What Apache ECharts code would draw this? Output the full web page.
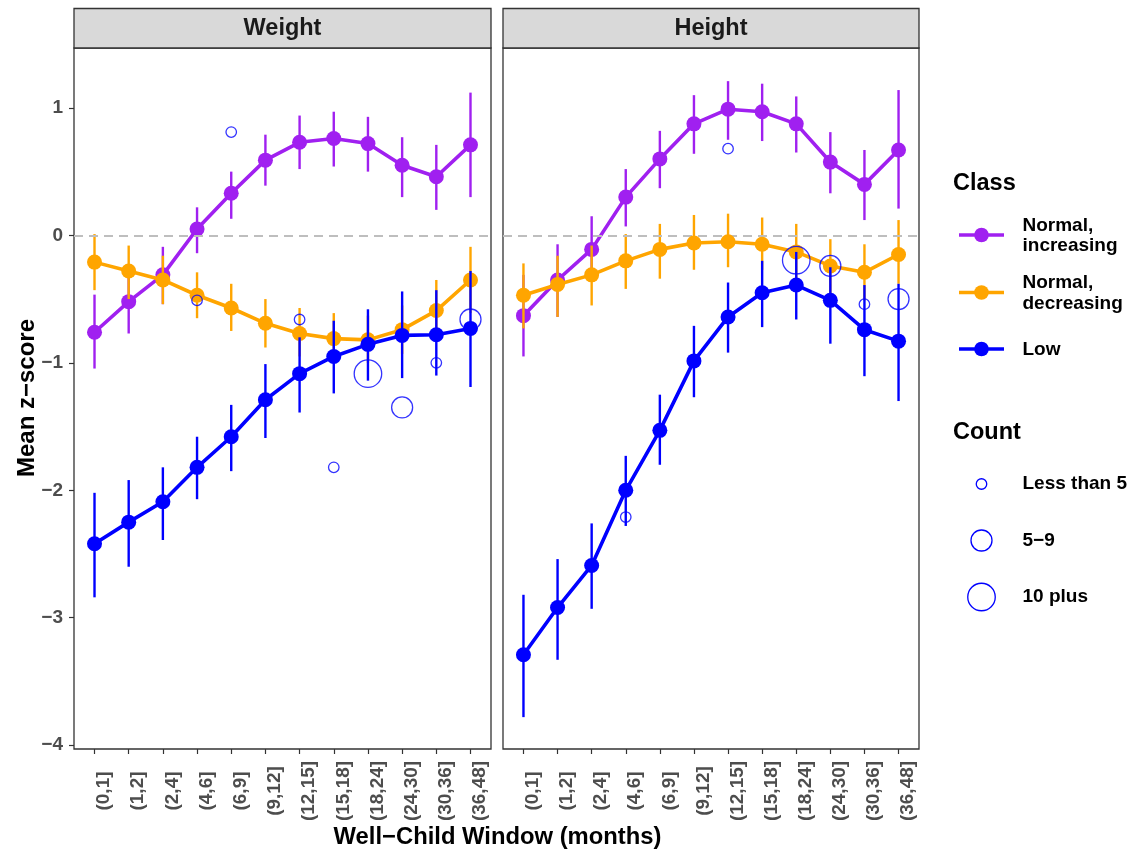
<!DOCTYPE html>
<html>
<head>
<meta charset="utf-8">
<script src="https://cdn.jsdelivr.net/npm/echarts@6/dist/echarts.min.js"></script>
<style>html,body{margin:0;padding:0;background:#fff}#c{width:1138px;height:853px}</style>
</head>
<body>
<div id="c"></div>
<script>
// ---------- data ----------
const categories = ['(0,1]','(1,2]','(2,4]','(4,6]','(6,9]','(9,12]','(12,15]','(15,18]','(18,24]','(24,30]','(30,36]','(36,48]'];
const panels = ['Weight', 'Height'];
const classNames = ['Normal, increasing', 'Normal, decreasing', 'Low'];
const yTicks = [-4, -3, -2, -1, 0, 1];

// Weight
const wIncMean = [-0.76,-0.52,-0.31,0.05,0.33,0.59,0.73,0.76,0.72,0.55,0.46,0.71];
const wIncLo   = [-1.045,-0.77,-0.54,-0.14,0.13,0.39,0.52,0.54,0.50,0.30,0.20,0.30];
const wIncHi   = [-0.465,-0.27,-0.09,0.22,0.50,0.79,0.94,0.97,0.93,0.77,0.71,1.12];
const wDecMean = [-0.21,-0.28,-0.35,-0.47,-0.57,-0.69,-0.77,-0.81,-0.82,-0.74,-0.59,-0.35];
const wDecLo   = [-0.43,-0.50,-0.54,-0.65,-0.75,-0.88,-0.95,-1.00,-1.00,-0.93,-0.82,-0.61];
const wDecHi   = [0.01,-0.08,-0.16,-0.29,-0.38,-0.50,-0.57,-0.61,-0.63,-0.55,-0.35,-0.09];
const wLowMean = [-2.42,-2.25,-2.09,-1.82,-1.58,-1.29,-1.085,-0.95,-0.855,-0.785,-0.78,-0.73];
const wLowLo   = [-2.84,-2.60,-2.39,-2.07,-1.85,-1.59,-1.39,-1.24,-1.14,-1.12,-1.10,-1.19];
const wLowHi   = [-2.02,-1.92,-1.82,-1.58,-1.33,-1.01,-0.80,-0.67,-0.58,-0.44,-0.43,-0.28];

// Height
const hIncMean = [-0.63,-0.35,-0.11,0.30,0.60,0.875,0.99,0.97,0.875,0.575,0.40,0.67];
const hIncLo   = [-0.95,-0.64,-0.35,0.07,0.37,0.64,0.75,0.74,0.65,0.33,0.12,0.21];
const hIncHi   = [-0.31,-0.07,0.15,0.52,0.82,1.10,1.21,1.19,1.09,0.81,0.67,1.14];
const hDecMean = [-0.47,-0.385,-0.31,-0.20,-0.11,-0.06,-0.05,-0.07,-0.13,-0.24,-0.29,-0.15];
const hDecLo   = [-0.73,-0.64,-0.55,-0.42,-0.34,-0.27,-0.25,-0.27,-0.35,-0.46,-0.51,-0.38];
const hDecHi   = [-0.22,-0.16,-0.08,0.01,0.09,0.16,0.17,0.14,0.09,-0.03,-0.07,0.12];
const hLowMean = [-3.29,-2.92,-2.59,-2.00,-1.53,-0.985,-0.64,-0.45,-0.39,-0.51,-0.74,-0.83];
const hLowLo   = [-3.78,-3.33,-2.93,-2.28,-1.80,-1.27,-0.92,-0.72,-0.66,-0.85,-1.105,-1.30];
const hLowHi   = [-2.82,-2.54,-2.26,-1.73,-1.25,-0.71,-0.37,-0.20,-0.13,-0.25,-0.39,-0.38];

// Count circles (category index 1-based, value, count class)
const countLevels = ['Less than 5', '5\u22129', '10 plus'];
const wCountX = [4, 5, 7, 8, 9, 10, 11, 12];
const wCountY = [-0.51, 0.81, -0.66, -1.82, -1.085, -1.35, -1.00, -0.66];
const wCountLvl = [0, 0, 0, 0, 2, 1, 0, 1];
const hCountX = [4, 7, 9, 10, 11, 12];
const hCountY = [-2.21, 0.68, -0.195, -0.24, -0.54, -0.50];
const hCountLvl = [0, 0, 2, 1, 0, 1];

// ---------- styles ----------
const FONT = '"Liberation Sans", Arial, Helvetica, sans-serif';
const classColors = ['#A020F0', '#FFA500', '#0000FF'];
const countSizes = [10.5, 21, 27.5];
const panelData = [
  { mean: [wIncMean, wDecMean, wLowMean], lo: [wIncLo, wDecLo, wLowLo], hi: [wIncHi, wDecHi, wLowHi],
    cx: wCountX, cy: wCountY, cl: wCountLvl },
  { mean: [hIncMean, hDecMean, hLowMean], lo: [hIncLo, hDecLo, hLowLo], hi: [hIncHi, hDecHi, hLowHi],
    cx: hCountX, cy: hCountY, cl: hCountLvl }
];
const gridPos = [{ left: 74, top: 48, width: 417, height: 701 }, { left: 503, top: 48, width: 416, height: 701 }];
const catIdx = categories.map((c, i) => i + 1);
const fmtNum = v => (v < 0 ? '\u2212' + Math.abs(v) : String(v));

const grids = [], xAxes = [], yAxes = [], series = [];
panels.forEach((p, pi) => {
  grids.push(Object.assign({ show: true, borderColor: '#333333', borderWidth: 1.3, backgroundColor: '#ffffff', containLabel: false }, gridPos[pi]));
  xAxes.push({
    type: 'value', gridIndex: pi, min: 0.4, max: 12.6, position: 'bottom',
    splitLine: { show: false }, axisLine: { show: false, onZero: false },
    axisTick: { show: true, customValues: catIdx, length: 5, lineStyle: { color: '#333333', width: 1.2 } },
    axisLabel: {
      show: true, customValues: catIdx, rotate: 90, margin: 42,
      align: 'center', verticalAlign: 'top',
      formatter: v => categories[Math.round(v) - 1],
      color: '#4D4D4D', fontWeight: 'bold', fontSize: 19, fontFamily: FONT
    }
  });
  yAxes.push({
    type: 'value', gridIndex: pi, min: -4.03, max: 1.47, position: 'left',
    splitLine: { show: false }, axisLine: { show: false, onZero: false },
    axisTick: { show: pi === 0, customValues: yTicks, length: 5, lineStyle: { color: '#333333', width: 1.2 } },
    axisLabel: {
      show: pi === 0, customValues: yTicks, margin: 11,
      formatter: fmtNum,
      color: '#4D4D4D', fontWeight: 'bold', fontSize: 19, fontFamily: FONT
    }
  });
  // zero reference line
  series.push({
    type: 'line', xAxisIndex: pi, yAxisIndex: pi, data: [], z: 1, silent: true,
    markLine: { silent: true, symbol: 'none', label: { show: false },
      lineStyle: { color: '#BEBEBE', width: 1.8, type: [9, 6] },
      data: [{ yAxis: 0 }] }
  });
  const d = panelData[pi];
  classNames.forEach((cn, ci) => {
    const col = classColors[ci];
    series.push({
      type: 'custom', name: cn, xAxisIndex: pi, yAxisIndex: pi, z: 2 + ci * 2,
      data: catIdx.map((x, i) => [x, d.lo[ci][i], d.hi[ci][i]]),
      encode: { x: 0, y: [1, 2] },
      renderItem: (params, api) => {
        const a = api.coord([api.value(0), api.value(1)]);
        const b = api.coord([api.value(0), api.value(2)]);
        return { type: 'line', shape: { x1: a[0], y1: a[1], x2: b[0], y2: b[1] }, style: { stroke: col, lineWidth: 2.4 } };
      }
    });
    series.push({
      type: 'line', name: cn, xAxisIndex: pi, yAxisIndex: pi, z: 3 + ci * 2,
      data: catIdx.map((x, i) => [x, d.mean[ci][i]]),
      symbol: 'circle', symbolSize: 15, showSymbol: true,
      lineStyle: { color: col, width: 3.6 }, itemStyle: { color: col },
      animation: false
    });
  });
  series.push({
    type: 'scatter', name: 'Count', xAxisIndex: pi, yAxisIndex: pi, z: 10,
    data: d.cx.map((x, i) => [x, d.cy[i], d.cl[i]]),
    symbol: 'circle', symbolSize: v => countSizes[v[2]],
    itemStyle: { color: 'rgba(0,0,0,0)', borderColor: '#0000FF', borderWidth: 1.3 }
  });
});

// ---------- graphic: strips, titles, legend ----------
const graphic = [];
panels.forEach((p, pi) => {
  const g = gridPos[pi];
  graphic.push({ type: 'rect', shape: { x: g.left, y: 8.5, width: g.width, height: 39.5 },
    style: { fill: '#D9D9D9', stroke: '#333333', lineWidth: 1.3 }, z: 5 });
  graphic.push({ type: 'text', x: g.left + g.width / 2, y: 28.5, z: 6,
    style: { text: p, font: 'bold 23.5px ' + FONT, fill: '#1A1A1A', align: 'center', verticalAlign: 'middle' } });
});
graphic.push({ type: 'text', x: 497.5, y: 837, z: 6,
  style: { text: 'Well\u2212Child Window (months)', font: 'bold 23.8px ' + FONT, fill: '#000', align: 'center', verticalAlign: 'middle' } });
graphic.push({ type: 'text', x: 27, y: 398, rotation: Math.PI / 2, z: 6,
  style: { text: 'Mean z\u2212score', font: 'bold 24px ' + FONT, fill: '#000', align: 'center', verticalAlign: 'middle' } });

// legend: Class
graphic.push({ type: 'text', x: 953, y: 184, z: 6,
  style: { text: 'Class', font: 'bold 23.5px ' + FONT, fill: '#000', align: 'left', verticalAlign: 'middle' } });
const legendClassY = [235, 292.5, 349];
const legendClassLabel = ['Normal,\nincreasing', 'Normal,\ndecreasing', 'Low'];
classNames.forEach((cn, ci) => {
  const y = legendClassY[ci];
  graphic.push({ type: 'line', shape: { x1: 959, y1: y, x2: 1004, y2: y }, style: { stroke: classColors[ci], lineWidth: 3.6 }, z: 6 });
  graphic.push({ type: 'circle', shape: { cx: 981.5, cy: y, r: 7.3 }, style: { fill: classColors[ci] }, z: 7 });
  graphic.push({ type: 'text', x: 1022.5, y: y + 1, z: 6,
    style: { text: legendClassLabel[ci], font: 'bold 19px ' + FONT, lineHeight: 20.5, fill: '#000', align: 'left', verticalAlign: 'middle' } });
});
// legend: Count
graphic.push({ type: 'text', x: 953, y: 433, z: 6,
  style: { text: 'Count', font: 'bold 23.5px ' + FONT, fill: '#000', align: 'left', verticalAlign: 'middle' } });
const legendCountY = [484, 540.5, 597];
countLevels.forEach((lv, li) => {
  const y = legendCountY[li];
  graphic.push({ type: 'circle', shape: { cx: 981.5, cy: y, r: countSizes[li] / 2 }, style: { fill: 'none', stroke: '#0000FF', lineWidth: 1.3 }, z: 6 });
  graphic.push({ type: 'text', x: 1022.5, y: y, z: 6,
    style: { text: lv, font: 'bold 19px ' + FONT, fill: '#000', align: 'left', verticalAlign: 'middle' } });
});

const chart = echarts.init(document.getElementById('c'), null, { renderer: 'canvas' });
chart.setOption({
  animation: false,
  backgroundColor: '#ffffff',
  textStyle: { fontFamily: FONT },
  grid: grids, xAxis: xAxes, yAxis: yAxes, series: series, graphic: graphic
});
</script>
</body>
</html>
